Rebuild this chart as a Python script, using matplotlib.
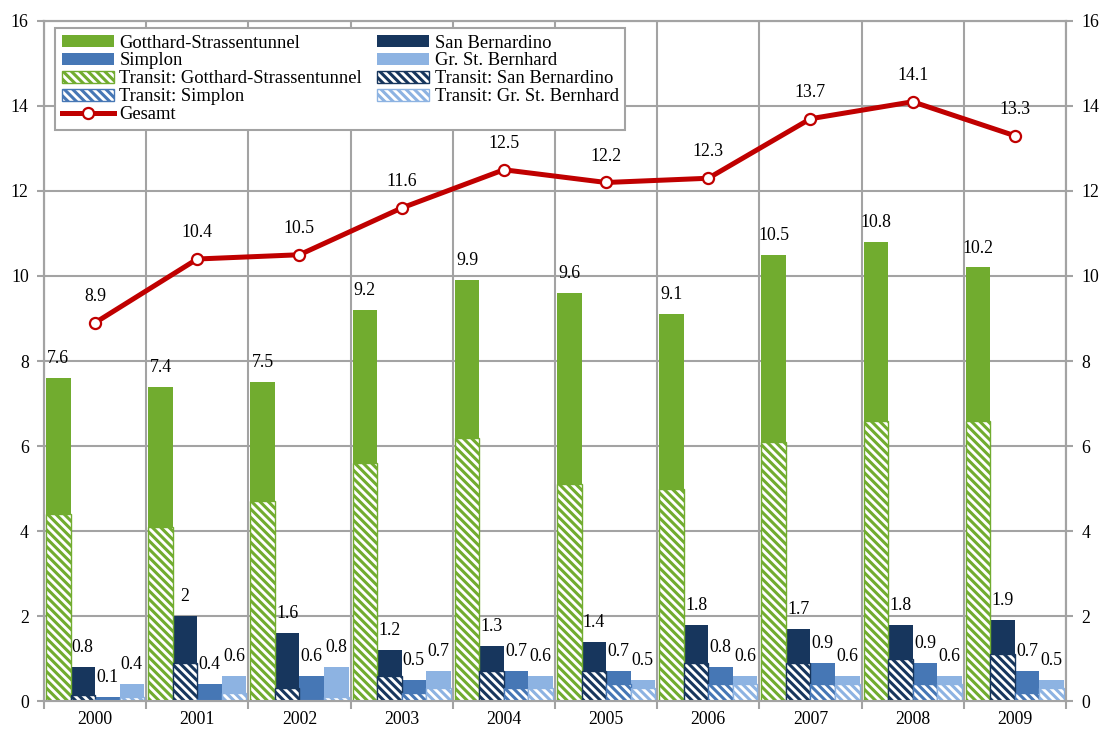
import matplotlib
matplotlib.use("Agg")
import matplotlib.pyplot as plt
import numpy as np

plt.rcParams['font.family'] = ['Liberation Serif', 'DejaVu Serif']
plt.rcParams['hatch.linewidth'] = 2.2

years = ['2000', '2001', '2002', '2003', '2004', '2005', '2006', '2007', '2008', '2009']

gotthard = [7.6, 7.4, 7.5, 9.2, 9.9, 9.6, 9.1, 10.5, 10.8, 10.2]
sanbern = [0.8, 2, 1.6, 1.2, 1.3, 1.4, 1.8, 1.7, 1.8, 1.9]
simplon = [0.1, 0.4, 0.6, 0.5, 0.7, 0.7, 0.8, 0.9, 0.9, 0.7]
gsb = [0.4, 0.6, 0.8, 0.7, 0.6, 0.5, 0.6, 0.6, 0.6, 0.5]

gotthard_transit = [4.4, 4.1, 4.7, 5.6, 6.2, 5.1, 5.0, 6.1, 6.6, 6.6]
sanbern_transit = [0.15, 0.9, 0.3, 0.6, 0.7, 0.7, 0.9, 0.9, 1.0, 1.1]
simplon_transit = [0.05, 0.05, 0.0, 0.2, 0.3, 0.4, 0.4, 0.4, 0.4, 0.2]
gsb_transit = [0.1, 0.2, 0.1, 0.3, 0.3, 0.3, 0.4, 0.4, 0.4, 0.3]

gesamt = [8.9, 10.4, 10.5, 11.6, 12.5, 12.2, 12.3, 13.7, 14.1, 13.3]

names = ['Gotthard-Strassentunnel', 'San Bernardino', 'Simplon', 'Gr. St. Bernhard']
colors = ['#71AC2F', '#17365D', '#4677B5', '#8DB3E2']
totals = [gotthard, sanbern, simplon, gsb]
transits = [gotthard_transit, sanbern_transit, simplon_transit, gsb_transit]

FS = 12.8
grid_col = '#A3A3A3'

fig = plt.figure(figsize=(11.02, 7.29), dpi=100)
ax = fig.add_axes([0.0399, 0.0384, 0.9274, 0.9328])

x = np.arange(len(years))
w = 0.24
offsets = [-1.5 * w, -0.5 * w, 0.5 * w, 1.5 * w]

total_bars = []
transit_bars = []
for vals, tr, col, off in zip(totals, transits, colors, offsets):
    b = ax.bar(x + off, vals, w, color=col, zorder=2)
    t = ax.bar(x + off, tr, w, facecolor='white', edgecolor=col,
               hatch='\\\\\\\\', linewidth=1.0, zorder=3)
    total_bars.append(b)
    transit_bars.append(t)
    for xi, v in zip(x + off, vals):
        ax.annotate('{:g}'.format(v), (xi, v), xytext=(0, 14), textcoords='offset points',
                    ha='center', va='center', fontsize=FS, zorder=5)

line, = ax.plot(x, gesamt, color='#C00000', lw=3.6, marker='o', ms=8,
                mfc='white', mec='#C00000', mew=1.6, zorder=4)
for xi, v in zip(x, gesamt):
    ax.annotate('{:g}'.format(v), (xi, v), xytext=(0, 19), textcoords='offset points',
                ha='center', va='center', fontsize=FS, zorder=5)

ax.set_xlim(-0.5, 9.5)
ax.set_ylim(0, 16)
ax.set_yticks(np.arange(0, 17, 2))
ax.set_xticks(np.arange(-0.5, 10, 1))
ax.set_xticklabels([])
ax.set_xticks(x, minor=True)
ax.set_xticklabels(years, minor=True)
ax.tick_params(axis='x', which='minor', length=0, labelsize=FS, pad=7)
ax.tick_params(axis='x', which='major', length=6, width=1.5, color=grid_col)
ax.tick_params(axis='y', length=5, width=1.5, color=grid_col, labelsize=FS, pad=6)
ax.grid(True, which='major', color=grid_col, lw=1.5, zorder=0)
ax.set_axisbelow(True)
for s in ax.spines.values():
    s.set_color(grid_col)
    s.set_linewidth(1.5)

ax2 = ax.twinx()
ax2.set_ylim(0, 16)
ax2.set_yticks(np.arange(0, 17, 2))
ax2.tick_params(axis='y', length=5, width=1.5, color=grid_col, labelsize=FS, pad=6)
for s in ax2.spines.values():
    s.set_color(grid_col)
    s.set_linewidth(1.5)

handles = [total_bars[0], total_bars[2], transit_bars[0], transit_bars[2], line,
           total_bars[1], total_bars[3], transit_bars[1], transit_bars[3]]
labels = [names[0], names[2], 'Transit: ' + names[0], 'Transit: ' + names[2], 'Gesamt',
          names[1], names[3], 'Transit: ' + names[1], 'Transit: ' + names[3]]
leg = ax2.legend(handles, labels, ncol=2, loc='upper left', bbox_to_anchor=(0.011, 0.9897),
                 borderaxespad=0, fontsize=13.4, frameon=True, fancybox=False,
                 edgecolor=grid_col, framealpha=1, handlelength=2.8, handleheight=0.65,
                 handletextpad=0.3, labelspacing=0.05, columnspacing=0.8, borderpad=0.35)
leg.get_frame().set_linewidth(1.5)

fig.savefig('out.png', dpi=100)
